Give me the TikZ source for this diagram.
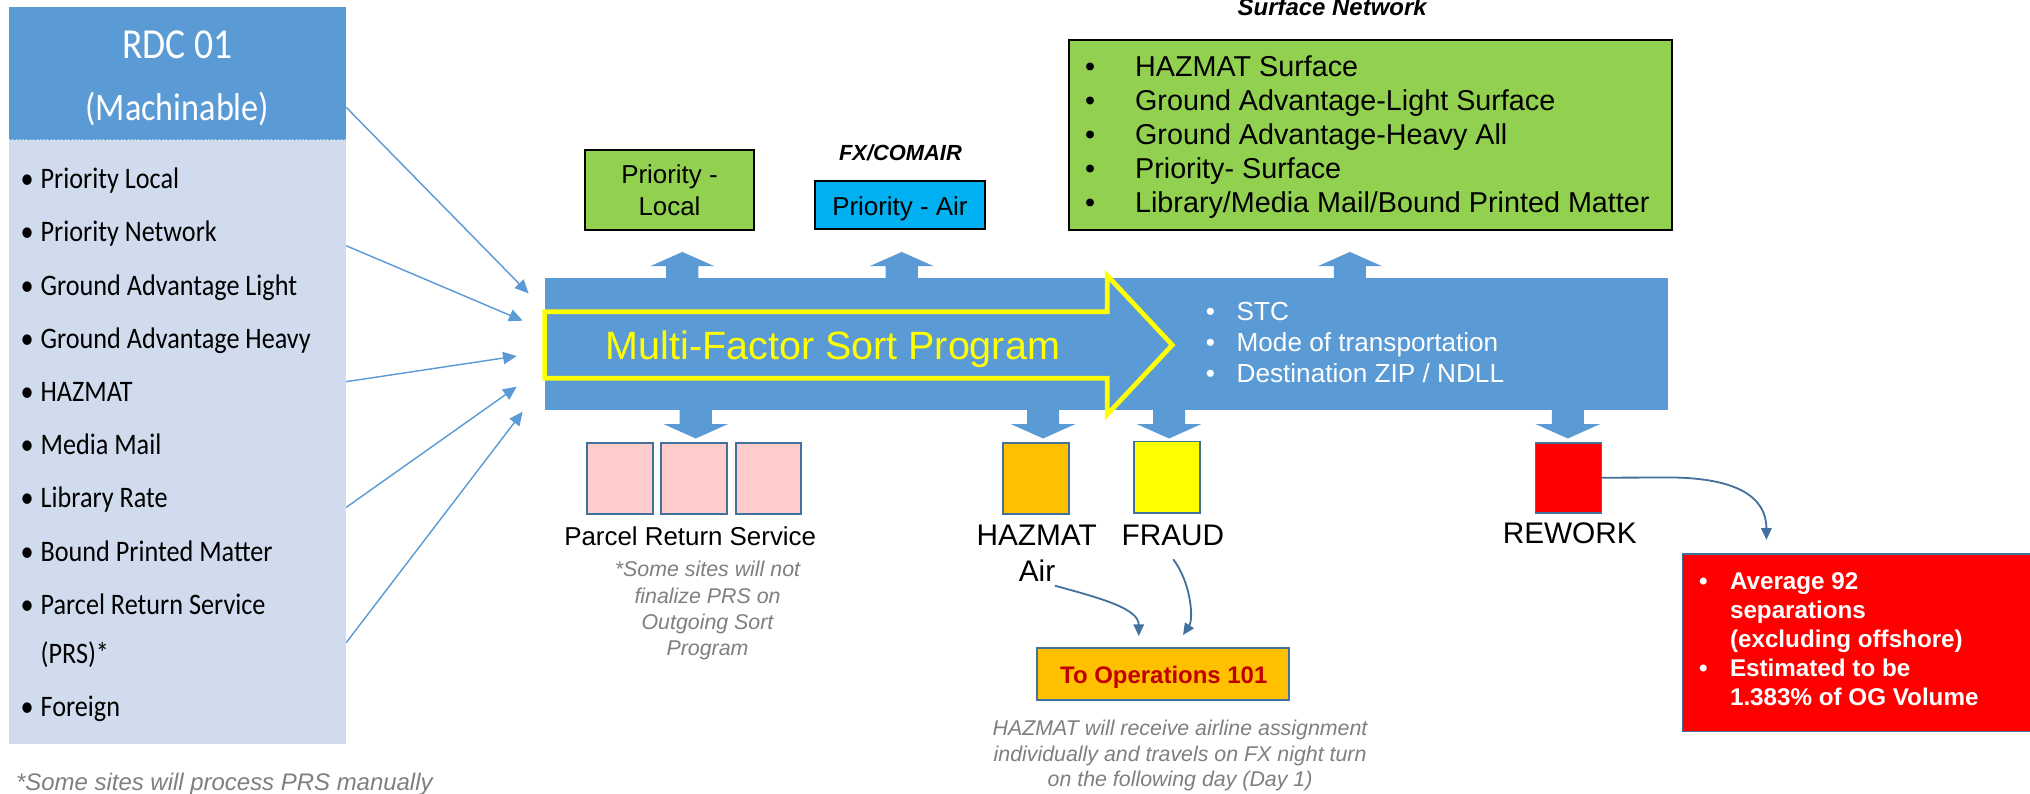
\documentclass[tikz,border=0pt]{standalone}
\usepackage{fontspec}
\setmainfont{Liberation Sans}
\newfontfamily\cali[FakeStretch=0.88]{Carlito}
\usetikzlibrary{arrows.meta}
\definecolor{bandblue}{HTML}{5B9BD5}
\definecolor{listblue}{HTML}{D0DCEE}
\definecolor{grn}{HTML}{92D050}
\definecolor{skyb}{HTML}{00B0F0}
\definecolor{pinkb}{HTML}{FFCCCC}
\definecolor{amber}{HTML}{FFC000}
\definecolor{yel}{HTML}{FFFF00}
\definecolor{redb}{HTML}{FF0000}
\definecolor{edgeblue}{HTML}{41719C}
\definecolor{darkred}{HTML}{C00000}
\definecolor{notegray}{HTML}{7F7F7F}
\newcommand{\setsz}[1]{\fontsize{#1pt}{#1pt}\selectfont}
\newcommand{\lbul}{\makebox[15.4pt][l]{•}}
\newcommand{\bbul}{\makebox[23.7pt][l]{•}}
\newcommand{\sbul}{\makebox[38.6pt][l]{•}}
\newcommand{\rbul}{\makebox[23.8pt][l]{•}}
\begin{document}
\begin{tikzpicture}[x=1pt,y=-1pt,
  box/.style={anchor=north west, inner sep=0pt, outer sep=0pt},
  blackbox/.style={box, draw=black, line width=1.5pt},
  binbox/.style={box, draw=edgeblue, line width=1.4pt},
  txt/.style={anchor=base, inner sep=0pt, outer sep=0pt},
  txtw/.style={anchor=base west, inner sep=0pt, outer sep=0pt},
  litem/.style={txtw, font=\cali\setsz{23}},
  inarrow/.style={draw=bandblue, line width=1.1pt, -{Triangle[length=10.5pt,width=9.5pt]}},
  curvarrow/.style={draw=edgeblue, line width=1.4pt, -{Triangle[length=9pt,width=8pt]}},
  uparr/.pic={\fill[bandblue] (-12.4,1) -- (-12.4,-9) -- (-24.8,-9) -- (0,-20) -- (24.8,-9) -- (12.4,-9) -- (12.4,1) -- cycle;},
  downarr/.pic={\fill[bandblue] (-12.4,-1) -- (-12.4,10.8) -- (-24.8,10.8) -- (0,21.9) -- (24.8,10.8) -- (12.4,10.8) -- (12.4,-1) -- cycle;}
]
\useasboundingbox[fill=white] (0,0) rectangle (1568,613);

% ---------------- left box ----------------
\node[box, fill=bandblue, minimum width=260.5pt, minimum height=102.9pt] (rdchead) at (6.9,5.2) {};
\node[box, fill=listblue, minimum width=260.5pt, minimum height=466.6pt] (rdclist) at (6.9,108.1) {};
\draw[white!65!bandblue, dotted, line width=0.7pt] (rdchead.south west) -- (rdchead.south east);
\node[txt, text=white, font=\cali\setsz{33}] (rdctitle) at (137,45.1) {RDC 01};
\node[txt, text=white, font=\cali\setsz{30}] (rdcsub) at (137,92.7) {(Machinable)};
\node[litem] (l1) at (16,145.5) {\lbul Priority Local};
\node[litem] (l2) at (16,186.8) {\lbul Priority Network};
\node[litem] (l3) at (16,227.9) {\lbul Ground Advantage Light};
\node[litem] (l4) at (16,269.1) {\lbul Ground Advantage Heavy};
\node[litem] (l5) at (16,310.2) {\lbul HAZMAT};
\node[litem] (l6) at (16,351.0) {\lbul Media Mail};
\node[litem] (l7) at (16,392.2) {\lbul Library Rate};
\node[litem] (l8) at (16,433.9) {\lbul Bound Printed Matter};
\node[litem] (l9) at (16,474.5) {\lbul Parcel Return Service};
\node[litem] (l9b) at (31.4,512.8) {(PRS)*};
\node[litem] (l10) at (16,553.5) {\lbul Foreign};
\node[txtw, text=notegray, font=\itshape\setsz{18.5}] (footnote) at (12.4,610.5) {*Some sites will process PRS manually};

% ---------------- band ----------------
\node[box, fill=bandblue, minimum width=867.3pt, minimum height=102.4pt] (band) at (420.7,214.5) {};
\draw[yel, line width=3.6pt, line join=miter] (420.7,240.8) -- (855.3,240.8) -- (855.3,212.9) -- (905.5,266.5) -- (855.3,320.1) -- (855.3,292.1) -- (420.7,292.1) -- cycle;
\node[txtw, text=yel, font=\setsz{30.5}] (mfsp) at (467.9,277.6) {Multi-Factor Sort Program};
\node[txtw, text=white, font=\setsz{20.2}] (b1) at (931.5,247.2) {\bbul STC};
\node[txtw, text=white, font=\setsz{20.2}] (b2) at (931.5,271.6) {\bbul Mode of transportation};
\node[txtw, text=white, font=\setsz{20.2}] (b3) at (931.5,295.6) {\bbul Destination ZIP / NDLL};

% block arrows
\pic at (527,214.6) {uparr};
\pic at (696.5,214.6) {uparr};
\pic at (1042.7,214.6) {uparr};
\pic at (537.4,316.8) {downarr};
\pic at (805.7,316.8) {downarr};
\pic at (903,316.8) {downarr};
\pic at (1211,316.8) {downarr};

% ---------------- top boxes ----------------
\node[blackbox, fill=grn, minimum width=131.1pt, minimum height=61.8pt] (plocal) at (451.6,115.9) {};
\node[txt, font=\setsz{20}] (plocal1) at (517.1,141.6) {Priority -};
\node[txt, font=\setsz{20}] (plocal2) at (517.1,166.1) {Local};
\node[txt, font=\bfseries\itshape\setsz{16.9}] (fxlbl) at (695.5,124.1) {FX/COMAIR};
\node[blackbox, fill=skyb, minimum width=131.8pt, minimum height=37.3pt] (pair) at (629.2,139.6) {};
\node[txt, font=\setsz{20}] (pairtxt) at (695.1,166.1) {Priority - Air};
\node[txt, font=\bfseries\itshape\setsz{18.5}] (surflbl) at (1029,11.7) {Surface Network};
\node[blackbox, fill=grn, minimum width=466pt, minimum height=146.8pt] (surf) at (825.5,30.9) {};
\node[txtw, font=\setsz{22.2}] (s1t) at (838.2,59.2) {\sbul HAZMAT Surface};
\node[txtw, font=\setsz{22.2}] (s2t) at (838.2,85.5) {\sbul Ground Advantage-Light Surface};
\node[txtw, font=\setsz{22.2}] (s3t) at (838.2,111.8) {\sbul Ground Advantage-Heavy All};
\node[txtw, font=\setsz{22.2}] (s4t) at (838.2,138.1) {\sbul Priority- Surface};
\node[txtw, font=\setsz{22.2}] (s5t) at (838.2,164.4) {\sbul Library/Media Mail/Bound Printed Matter};

% ---------------- bins ----------------
\node[binbox, fill=pinkb, minimum width=50.5pt, minimum height=55pt] (prs1) at (453.6,342) {};
\node[binbox, fill=pinkb, minimum width=50.5pt, minimum height=55pt] (prs2) at (510.8,342) {};
\node[binbox, fill=pinkb, minimum width=50.5pt, minimum height=55pt] (prs3) at (568.2,342) {};
\node[txt, font=\setsz{20}] (prslbl) at (533.1,421) {Parcel Return Service};
\node[txt, text=notegray, font=\itshape\setsz{16.5}] (prsn1) at (546.5,445.4) {*Some sites will not};
\node[txt, text=notegray, font=\itshape\setsz{16.5}] (prsn2) at (546.5,466) {finalize PRS on};
\node[txt, text=notegray, font=\itshape\setsz{16.5}] (prsn3) at (546.5,486.1) {Outgoing Sort};
\node[txt, text=notegray, font=\itshape\setsz{16.5}] (prsn4) at (546.5,506) {Program};

\node[binbox, fill=amber, minimum width=51pt, minimum height=55pt] (haz) at (775,342) {};
\node[txt, font=\setsz{23}] (hazlbl1) at (800.7,421) {HAZMAT};
\node[txt, font=\setsz{23}] (hazlbl2) at (801,449.3) {Air};
\node[binbox, fill=yel, minimum width=51pt, minimum height=55pt] (fraud) at (876,341) {};
\node[txt, font=\setsz{23}] (fraudlbl) at (906,421) {FRAUD};
\node[binbox, fill=redb, minimum width=51pt, minimum height=54pt] (rework) at (1186,342) {};
\node[txt, font=\setsz{23}] (reworklbl) at (1212.5,419.7) {REWORK};

% ---------------- operations ----------------
\node[binbox, fill=amber, minimum width=195pt, minimum height=40.4pt] (toops) at (800.7,500.3) {};
\node[txt, text=darkred, font=\bfseries\setsz{18.5}] (toopstxt) at (898.9,527.8) {To Operations 101};
\node[txt, text=notegray, font=\itshape\setsz{16.5}] (hn1) at (911.5,567.8) {HAZMAT will receive airline assignment};
\node[txt, text=notegray, font=\itshape\setsz{16.5}] (hn2) at (911.5,588.4) {individually and travels on FX night turn};
\node[txt, text=notegray, font=\itshape\setsz{16.5}] (hn3) at (911.5,607.6) {on the following day (Day 1)};

% ---------------- red box ----------------
\node[binbox, fill=redb, minimum width=290pt, minimum height=137pt] (redbox) at (1299.5,428) {};
\node[txtw, text=white, font=\bfseries\setsz{18.7}] (r1) at (1312.5,455.5) {\rbul Average 92};
\node[txtw, text=white, font=\bfseries\setsz{18.7}] (r2) at (1336.3,478) {separations};
\node[txtw, text=white, font=\bfseries\setsz{18.7}] (r3) at (1336.3,500.3) {(excluding offshore)};
\node[txtw, text=white, font=\bfseries\setsz{18.7}] (r4) at (1312.5,522.8) {\rbul Estimated to be};
\node[txtw, text=white, font=\bfseries\setsz{18.7}] (r5) at (1336.3,545.3) {1.383\% of OG Volume};

% ---------------- connectors ----------------
\coordinate (src1) at (267.4,82.9);
\coordinate (src2) at (267.4,189.8);
\coordinate (src3) at (267.4,294.8);
\coordinate (src4) at (267.4,391.9);
\coordinate (src5) at (267.4,496.4);
\coordinate (tip1) at (408.3,226.6);
\coordinate (tip2) at (403.7,247.7);
\coordinate (tip3) at (399.1,275);
\coordinate (tip4) at (399.1,298.7);
\coordinate (tip5) at (403.7,318);
\draw[inarrow] (src1) -- (tip1);
\draw[inarrow] (src2) -- (tip2);
\draw[inarrow] (src3) -- (tip3);
\draw[inarrow] (src4) -- (tip4);
\draw[inarrow] (src5) -- (tip5);

\coordinate (airstart) at (814.8,452.4);
\coordinate (opsin1) at (879.6,491.3);
\draw[curvarrow] (airstart) .. controls (850,462) and (879.6,470) .. (opsin1);
\coordinate (fraudstart) at (906.2,432);
\coordinate (opsin2) at (913.8,490.5);
\draw[curvarrow] (fraudstart) .. controls (920,450) and (922,478) .. (opsin2);
\coordinate (reworkend) at (1364.4,417);
\draw[curvarrow] (rework.east) -- (1291.5,368.8) .. controls (1342,369.5) and (1364.4,384) .. (reworkend);
\end{tikzpicture}
\end{document}
